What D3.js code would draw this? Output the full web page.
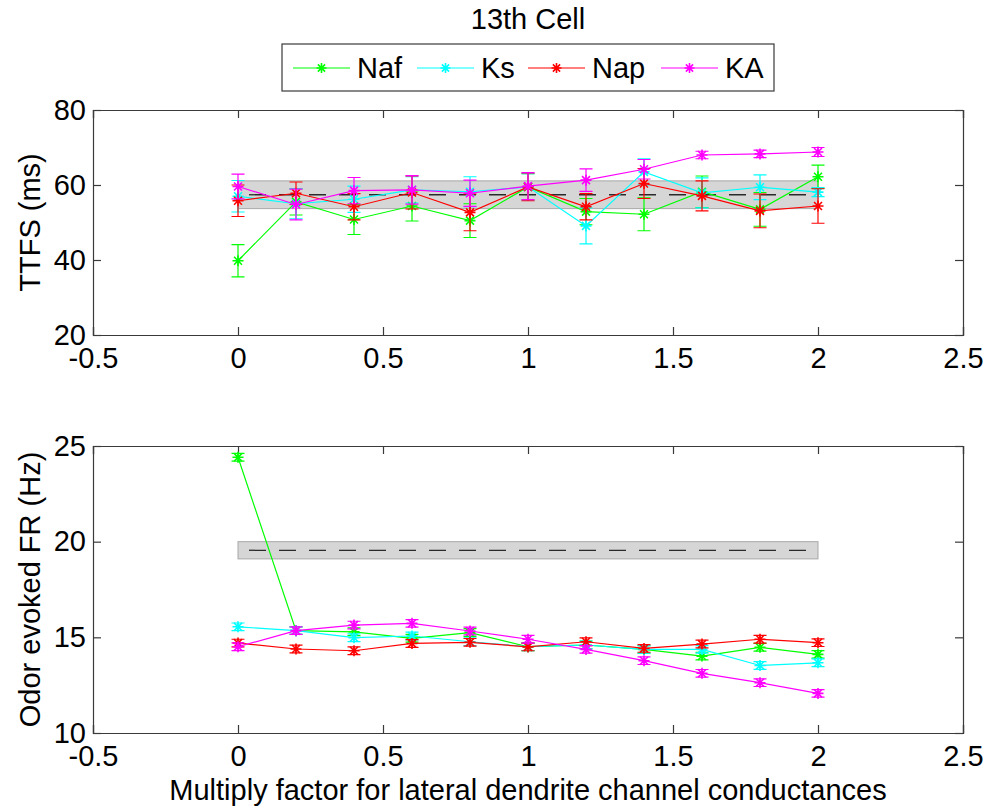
<!DOCTYPE html>
<html>
<head>
<meta charset="utf-8">
<script src="https://cdn.jsdelivr.net/npm/d3@7"></script>
<style>
  html, body { margin: 0; padding: 0; background: #fff; }
  svg { display: block; }
  text { font-family: "Liberation Sans", Arial, Helvetica, sans-serif; fill: #000; }
</style>
</head>
<body>
<div id="chart"></div>
<script>
// ---------------- DATA ----------------
const factors = [0, 0.2, 0.4, 0.6, 0.8, 1.0, 1.2, 1.4, 1.6, 1.8, 2.0];
const seriesNames = ["Naf", "Ks", "Nap", "KA"];
const seriesColors = ["#00ff00", "#00ffff", "#ff0000", "#ff00ff"];

// TTFS (ms)
const ttfsNaf = [39.8, 55.5, 50.8, 54.4, 50.5, 59.5, 52.9, 52.2, 58.2, 53.5, 62.2];
const ttfsKs  = [57.0, 55.0, 56.2, 58.7, 58.2, 59.5, 49.1, 63.5, 57.9, 59.4, 58.1];
const ttfsNap = [55.8, 57.8, 54.2, 58.0, 52.7, 59.5, 54.2, 60.4, 57.1, 53.1, 54.4];
const ttfsKA  = [59.6, 54.8, 58.5, 58.7, 57.8, 59.7, 61.3, 64.2, 68.0, 68.3, 68.8];
const ttfsErrNaf = [4.3, 3.5, 4.0, 4.0, 4.5, 3.5, 3.5, 4.4, 4.2, 4.5, 3.1];
const ttfsErrKs  = [4.2, 4.0, 3.5, 3.5, 4.0, 3.5, 4.8, 3.5, 4.0, 3.3, 1.2];
const ttfsErrNap = [4.2, 3.0, 3.5, 4.4, 4.9, 3.7, 3.5, 4.0, 4.0, 4.5, 4.6];
const ttfsErrKA  = [3.3, 4.1, 3.5, 3.8, 3.5, 3.6, 3.0, 2.6, 1.0, 1.0, 1.2];
const ttfsBand = [53.7, 57.4, 61.1];   // lower, mean, upper (control)

// Odor evoked FR (Hz)
const frNaf = [24.41, 15.35, 15.29, 14.95, 15.25, 14.51, 14.60, 14.37, 14.02, 14.48, 14.11];
const frKs  = [15.55, 15.35, 14.98, 15.07, 14.77, 14.51, 14.60, 14.37, 14.37, 13.53, 13.67];
const frNap = [14.70, 14.39, 14.30, 14.68, 14.74, 14.50, 14.77, 14.42, 14.65, 14.90, 14.72];
const frKA  = [14.51, 15.35, 15.64, 15.73, 15.33, 14.90, 14.37, 13.78, 13.12, 12.63, 12.07];
const frErrNaf = [0.2, 0.2, 0.2, 0.2, 0.2, 0.2, 0.2, 0.2, 0.2, 0.2, 0.2];
const frErrKs  = [0.2, 0.2, 0.2, 0.2, 0.2, 0.2, 0.2, 0.2, 0.2, 0.2, 0.2];
const frErrNap = [0.2, 0.2, 0.2, 0.2, 0.2, 0.2, 0.2, 0.2, 0.2, 0.2, 0.2];
const frErrKA  = [0.2, 0.2, 0.2, 0.2, 0.2, 0.2, 0.2, 0.2, 0.2, 0.2, 0.2];
const frBand = [19.1, 19.55, 20.0];

const xTicks = [-0.5, 0, 0.5, 1, 1.5, 2, 2.5];
const xTickLabels = ["-0.5", "0", "0.5", "1", "1.5", "2", "2.5"];
const ttfsTicks = [20, 40, 60, 80];
const frTicks = [10, 15, 20, 25];

const titleText = "13th Cell";
const xLabelText = "Multiply factor for lateral dendrite channel conductances";
const ttfsLabel = "TTFS (ms)";
const frLabel = "Odor evoked FR (Hz)";

// ---------------- LAYOUT ----------------
const W = 987, H = 810;
const FONT = 29;
const left = 93, right = 963;
const topPanel = { y0: 110, y1: 335 };
const botPanel = { y0: 446, y1: 733 };
const axisColor = "#3a3a3a";

const svg = d3.select("#chart").append("svg").attr("width", W).attr("height", H);

const x = d3.scaleLinear().domain([-0.5, 2.5]).range([left, right]);

function asteriskPath(cx, cy, r) {
  const d = r * 0.72;
  return `M${cx - r},${cy}L${cx + r},${cy}M${cx},${cy - r}L${cx},${cy + r}` +
         `M${cx - d},${cy - d}L${cx + d},${cy + d}M${cx - d},${cy + d}L${cx + d},${cy - d}`;
}

function drawPanel(panel, yDomain, yTicks, values, errs, band, yLabel) {
  const y = d3.scaleLinear().domain(yDomain).range([panel.y1, panel.y0]);
  const g = svg.append("g");

  // control band
  g.append("rect")
    .attr("x", x(0)).attr("width", x(2) - x(0))
    .attr("y", y(band[2])).attr("height", y(band[0]) - y(band[2]))
    .attr("fill", "#d6d6d6").attr("stroke", "#a8a8a8").attr("stroke-width", 1);
  g.append("line")
    .attr("x1", x(0)).attr("x2", x(2))
    .attr("y1", y(band[1])).attr("y2", y(band[1]))
    .attr("stroke", "#2a2a2a").attr("stroke-width", 1.3)
    .attr("stroke-dasharray", "17,13").attr("stroke-dashoffset", 19);

  // axes (box with inward ticks)
  const fmt = (d) => xTickLabels[xTicks.indexOf(d)];
  const axB = g.append("g").attr("transform", `translate(0,${panel.y1})`)
    .call(d3.axisBottom(x).tickValues(xTicks).tickFormat(fmt).tickSize(-8).tickPadding(12));
  const axT = g.append("g").attr("transform", `translate(0,${panel.y0})`)
    .call(d3.axisTop(x).tickValues(xTicks).tickFormat("").tickSize(-8));
  const axL = g.append("g").attr("transform", `translate(${left},0)`)
    .call(d3.axisLeft(y).tickValues(yTicks).tickSize(-8).tickPadding(7));
  const axR = g.append("g").attr("transform", `translate(${right},0)`)
    .call(d3.axisRight(y).tickValues(yTicks).tickFormat("").tickSize(-8));
  [axB, axT, axL, axR].forEach(a => {
    a.select(".domain").attr("stroke", axisColor).attr("stroke-width", 1.2);
    a.selectAll(".tick line").attr("stroke", axisColor).attr("stroke-width", 1.2);
    a.selectAll(".tick text").attr("font-size", FONT)
      .attr("font-family", '"Liberation Sans", Arial, sans-serif').attr("fill", "#000");
  });

  // series
  seriesNames.forEach((name, si) => {
    const color = seriesColors[si];
    const vals = values[si], er = errs[si];
    const pts = factors.map((f, i) => ({ f, v: vals[i], e: er[i] }));
    const sg = g.append("g");
    // error bars
    pts.forEach(p => {
      const cx = x(p.f), yt = y(p.v + p.e), yb = y(p.v - p.e);
      sg.append("path")
        .attr("d", `M${cx},${yt}L${cx},${yb}M${cx - 6.5},${yt}L${cx + 6.5},${yt}M${cx - 6.5},${yb}L${cx + 6.5},${yb}`)
        .attr("stroke", color).attr("stroke-width", 1.2).attr("fill", "none");
    });
    // line
    sg.append("path").datum(pts)
      .attr("d", d3.line().x(p => x(p.f)).y(p => y(p.v)))
      .attr("stroke", color).attr("stroke-width", 1.2).attr("fill", "none");
    // markers
    pts.forEach(p => {
      sg.append("path").attr("d", asteriskPath(x(p.f), y(p.v), 5.5))
        .attr("stroke", color).attr("stroke-width", 1.6).attr("fill", "none");
    });
  });

  // y label
  svg.append("text")
    .attr("transform", `translate(40,${(panel.y0 + panel.y1) / 2}) rotate(-90)`)
    .attr("text-anchor", "middle").attr("font-size", FONT).text(yLabel);
}

drawPanel(topPanel, [20, 80], ttfsTicks,
  [ttfsNaf, ttfsKs, ttfsNap, ttfsKA], [ttfsErrNaf, ttfsErrKs, ttfsErrNap, ttfsErrKA],
  ttfsBand, ttfsLabel);
drawPanel(botPanel, [10, 25], frTicks,
  [frNaf, frKs, frNap, frKA], [frErrNaf, frErrKs, frErrNap, frErrKA],
  frBand, frLabel);

// title
svg.append("text").attr("x", (left + right) / 2).attr("y", 29)
  .attr("text-anchor", "middle").attr("font-size", FONT).text(titleText);

// x label
svg.append("text").attr("x", (left + right) / 2).attr("y", 800)
  .attr("text-anchor", "middle").attr("font-size", FONT).text(xLabelText);

// legend
const lg = svg.append("g");
lg.append("rect").attr("x", 282).attr("y", 44).attr("width", 492).attr("height", 47)
  .attr("fill", "#fff").attr("stroke", "#3a3a3a").attr("stroke-width", 1.2);
const legendX = [293, 417, 528, 661];
seriesNames.forEach((name, i) => {
  const lx = legendX[i];
  lg.append("line").attr("x1", lx).attr("x2", lx + 57).attr("y1", 68).attr("y2", 68)
    .attr("stroke", seriesColors[i]).attr("stroke-width", 1.2);
  lg.append("path").attr("d", asteriskPath(lx + 28.5, 68, 5))
    .attr("stroke", seriesColors[i]).attr("stroke-width", 1.6).attr("fill", "none");
  lg.append("text").attr("x", lx + 64).attr("y", 78).attr("font-size", FONT).text(name);
});
</script>
</body>
</html>
